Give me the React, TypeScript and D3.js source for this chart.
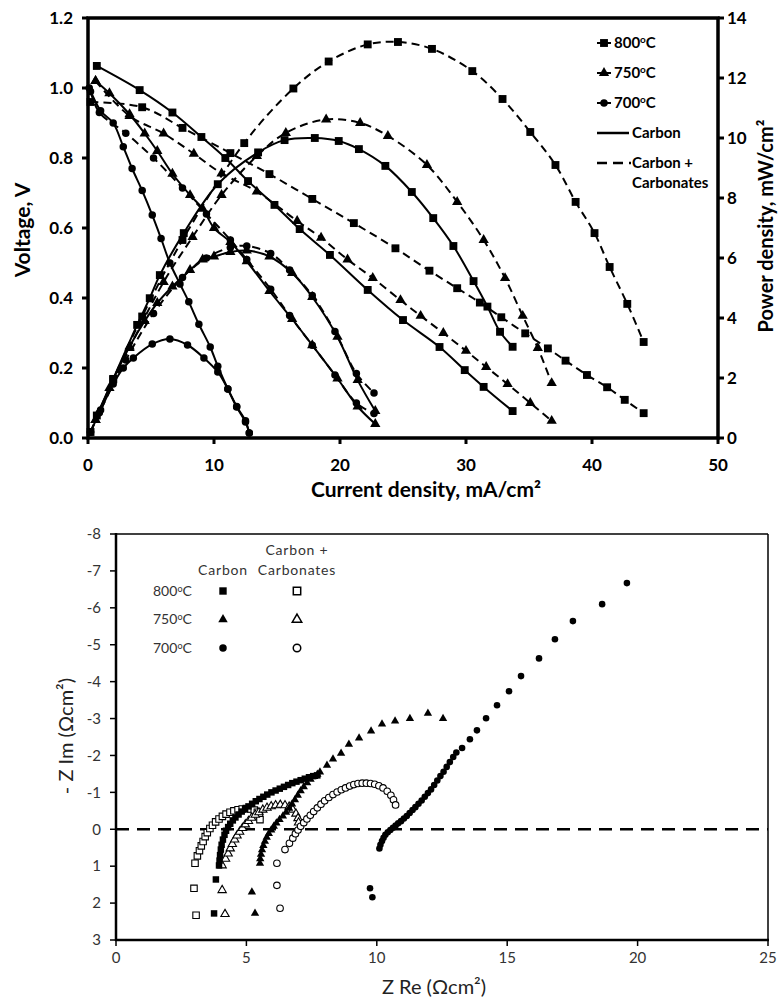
import React from 'react';
import * as d3 from 'd3';

type Pt = [number, number];

// ---------- top panel: V (left axis) and power density (right axis) vs current density ----------
const v800Carbon: Pt[] = [[0.7,1.063],[4.1,0.994],[6.7,0.93],[9.0,0.86],[10.9,0.80],[12.7,0.734],[14.8,0.666],[16.8,0.597],[19.2,0.523],[22.2,0.423],[25.0,0.337],[27.9,0.26],[29.9,0.194],[31.4,0.146],[33.7,0.077]];
const v800Carbonates: Pt[] = [[0.2,0.96],[4.3,0.945],[7.5,0.886],[11.3,0.814],[14.4,0.754],[17.8,0.683],[21.1,0.614],[24.4,0.542],[27.1,0.478],[29.3,0.428],[31.1,0.387],[32.8,0.345],[34.7,0.299],[36.5,0.256],[37.9,0.221],[39.6,0.18],[41.2,0.145],[42.6,0.109],[44.1,0.071]];
const v750Carbon: Pt[] = [[0.6,1.02],[1.7,0.985],[3.3,0.925],[4.5,0.87],[5.5,0.82],[6.7,0.755],[8.1,0.694],[9.1,0.655],[10.0,0.6],[11.3,0.56],[12.6,0.505],[14.4,0.42],[16.2,0.34],[17.8,0.265],[19.8,0.17],[21.4,0.09],[22.8,0.04]];
const v750Carbonates: Pt[] = [[0.6,1.02],[3.3,0.92],[6.0,0.87],[8.4,0.812],[10.6,0.756],[13.4,0.704],[16.6,0.62],[18.5,0.572],[20.6,0.51],[22.6,0.457],[24.8,0.394],[26.4,0.349],[28.2,0.30],[30.0,0.249],[31.6,0.203],[33.3,0.154],[35.1,0.1],[36.8,0.049]];
const v700Carbon: Pt[] = [[0.1,1.0],[1.0,0.935],[2.0,0.9],[2.8,0.832],[3.5,0.77],[4.3,0.707],[5.1,0.637],[5.8,0.57],[6.5,0.5],[7.3,0.44],[8.0,0.389],[8.8,0.325],[9.7,0.26],[10.3,0.205],[11.1,0.14],[11.8,0.09],[12.5,0.049],[12.8,0.014]];
const v700Carbonates: Pt[] = [[0.2,0.99],[0.9,0.93],[3.0,0.871],[5.2,0.80],[7.5,0.714],[9.4,0.64],[11.3,0.566],[12.6,0.51],[14.5,0.425],[16.0,0.35],[17.8,0.265],[19.6,0.18],[21.3,0.1],[22.7,0.07]];

const p800Carbon: Pt[] = [[0.7,0.75],[2.0,1.97],[3.9,3.77],[4.9,4.66],[5.7,5.43],[7.6,6.83],[10.3,8.46],[13.5,9.52],[15.6,9.93],[18.0,10.0],[19.9,9.9],[21.5,9.63],[23.6,9.07],[25.7,8.2],[27.4,7.33],[29.0,6.4],[30.6,5.23],[31.7,4.38],[32.7,3.54],[33.7,3.04]];
const p800Carbonates: Pt[] = [[0.2,0.2],[2.0,1.95],[4.3,4.05],[7.5,6.6],[12.4,9.83],[16.3,11.65],[19.1,12.55],[22.2,13.12],[24.6,13.2],[27.3,12.97],[30.5,12.23],[32.9,11.3],[35.1,10.2],[37.1,9.1],[38.7,7.87],[40.2,6.83],[41.4,5.7],[42.8,4.47],[44.1,3.2]];
const p750Carbon: Pt[] = [[0.6,0.6],[1.7,1.67],[3.3,3.05],[4.5,3.9],[5.5,4.5],[6.7,5.05],[8.1,5.6],[9.1,5.95],[10.0,6.05],[11.3,6.2],[12.6,6.25],[14.4,6.05],[16.2,5.5],[17.8,4.7],[19.8,3.37],[21.4,1.93],[22.8,0.9]];
const p750Carbonates: Pt[] = [[0.6,0.6],[3.3,3.0],[6.0,5.2],[8.3,6.7],[10.6,8.1],[13.4,9.4],[15.7,10.17],[18.9,10.62],[21.6,10.5],[23.8,10.07],[26.9,9.1],[29.3,7.87],[31.4,6.6],[33.1,5.33],[34.5,4.07],[35.7,3.0],[36.8,1.83]];
const p700Carbon: Pt[] = [[0.2,0.2],[1.0,0.93],[2.0,1.8],[2.8,2.33],[3.6,2.67],[5.1,3.13],[6.5,3.3],[7.9,3.1],[9.2,2.67],[10.3,2.2],[11.1,1.63],[11.8,1.03],[12.5,0.53],[12.8,0.17]];
const p700Carbonates: Pt[] = [[0.2,0.2],[0.9,0.84],[3.0,2.6],[5.2,4.15],[7.5,5.35],[9.4,6.0],[11.3,6.35],[12.6,6.4],[14.5,6.15],[16.0,5.6],[17.8,4.75],[19.6,3.55],[21.3,2.15],[22.7,1.5]];

const currentTicks = [0, 10, 20, 30, 40, 50];
const voltTicks = [0, 0.2, 0.4, 0.6, 0.8, 1.0, 1.2];
const powerTicks = [0, 2, 4, 6, 8, 10, 12, 14];
const tempLabels = ['800', '750', '700'];

// ---------- bottom panel: impedance spectra (Z Re, -Z Im axis reversed) ----------
const z800Carbon: Pt[] = [[3.76,2.28],[3.83,1.36],[3.95,0.98],[3.97,0.85],[3.99,0.7],[4.02,0.55],[4.05,0.42],[4.1,0.28],[4.16,0.15],[4.22,0.04],[4.3,-0.06],[4.38,-0.15],[4.48,-0.24],[4.58,-0.32],[4.7,-0.4],[4.82,-0.48],[4.95,-0.55],[5.08,-0.62],[5.22,-0.69],[5.36,-0.76],[5.5,-0.82],[5.65,-0.88],[5.8,-0.94],[5.96,-1.0],[6.12,-1.05],[6.28,-1.1],[6.44,-1.15],[6.6,-1.2],[6.76,-1.25],[6.92,-1.29],[7.08,-1.33],[7.24,-1.37],[7.4,-1.41],[7.56,-1.44],[7.72,-1.46]];
const z800Carbonates: Pt[] = [[3.07,2.33],[2.99,1.6],[3.03,0.92],[3.12,0.72],[3.2,0.58],[3.27,0.45],[3.34,0.33],[3.42,0.2],[3.5,0.09],[3.6,-0.02],[3.7,-0.11],[3.82,-0.2],[3.95,-0.28],[4.08,-0.35],[4.22,-0.41],[4.37,-0.46],[4.52,-0.5],[4.68,-0.53],[4.84,-0.55],[5.0,-0.56],[5.16,-0.55],[5.3,-0.52],[5.42,-0.46],[5.5,-0.37],[5.52,-0.26]];
const z750Carbon: Pt[] = [[5.33,2.28],[5.21,1.7],[5.52,0.92],[5.53,0.8],[5.56,0.68],[5.6,0.56],[5.65,0.44],[5.71,0.33],[5.78,0.22],[5.86,0.12],[5.95,0.02],[6.05,-0.08],[6.15,-0.17],[6.27,-0.26],[6.4,-0.36],[6.52,-0.46],[6.64,-0.57],[6.75,-0.68],[6.86,-0.8],[6.97,-0.92],[7.08,-1.04],[7.2,-1.15],[7.33,-1.26],[7.46,-1.35],[7.6,-1.43],[7.72,-1.49],[7.82,-1.55],[8.09,-1.73],[8.32,-1.9],[8.63,-2.06],[8.93,-2.3],[9.32,-2.47],[9.78,-2.66],[10.2,-2.85],[10.7,-2.93],[11.27,-3.0],[11.96,-3.14],[12.54,-3.0]];
const z750Carbonates: Pt[] = [[4.18,2.3],[4.07,1.65],[4.07,0.98],[4.2,0.8],[4.3,0.66],[4.38,0.52],[4.46,0.4],[4.55,0.28],[4.64,0.17],[4.74,0.07],[4.85,-0.03],[4.96,-0.13],[5.08,-0.22],[5.2,-0.31],[5.34,-0.39],[5.48,-0.46],[5.63,-0.53],[5.79,-0.58],[5.95,-0.62],[6.12,-0.65],[6.3,-0.66],[6.48,-0.65],[6.64,-0.61],[6.78,-0.53],[6.9,-0.42],[6.98,-0.3],[7.0,-0.18]];
const z700Carbon: Pt[] = [[9.83,1.84],[9.74,1.6],[10.1,0.52],[10.14,0.42],[10.2,0.32],[10.26,0.23],[10.33,0.15],[10.42,0.08],[10.52,0.02],[10.62,-0.04],[10.72,-0.1],[10.82,-0.16],[10.93,-0.22],[11.04,-0.29],[11.15,-0.36],[11.26,-0.44],[11.37,-0.52],[11.48,-0.6],[11.6,-0.69],[11.72,-0.78],[11.84,-0.88],[11.96,-0.98],[12.08,-1.08],[12.2,-1.2],[12.32,-1.32],[12.44,-1.44],[12.56,-1.56],[12.68,-1.69],[12.8,-1.82],[12.93,-1.96],[13.05,-2.08],[13.27,-2.2],[13.57,-2.44],[13.84,-2.68],[14.19,-3.01],[14.61,-3.36],[15.07,-3.74],[15.53,-4.15],[16.22,-4.63],[16.83,-5.15],[17.52,-5.64],[18.64,-6.1],[19.59,-6.67]];
const z700Carbonates: Pt[] = [[6.29,2.14],[6.17,1.52],[6.17,0.92],[6.48,0.55],[6.65,0.38],[6.78,0.24],[6.88,0.12],[6.98,0.02],[7.08,-0.08],[7.2,-0.18],[7.32,-0.28],[7.45,-0.38],[7.58,-0.48],[7.72,-0.58],[7.86,-0.68],[8.0,-0.77],[8.16,-0.86],[8.32,-0.94],[8.48,-1.01],[8.64,-1.07],[8.8,-1.12],[8.96,-1.17],[9.12,-1.21],[9.28,-1.24],[9.44,-1.25],[9.6,-1.25],[9.76,-1.24],[9.92,-1.22],[10.08,-1.18],[10.24,-1.12],[10.4,-1.03],[10.54,-0.92],[10.64,-0.8],[10.72,-0.66]];

const zreTicks = [0, 5, 10, 15, 20, 25];
const zimTicks = [-8, -7, -6, -5, -4, -3, -2, -1, 0, 1, 2, 3];

const symType = (s: string) => (s === 'square' ? d3.symbolSquare : s === 'triangle' ? d3.symbolTriangle : d3.symbolCircle);
const sym = (s: string, size: number) => d3.symbol().type(symType(s)).size(size)() as string;

const topSizes: Record<string, number> = { square: 62, triangle: 46, circle: 44 };
const botSizes: Record<string, number> = { square: 42, triangle: 30, circle: 34 };

const boldFont = "Lato, 'Open Sans', sans-serif";
const lightFont = "Lato, 'Open Sans', sans-serif";

export default function App() {
  // top chart scales
  const x = d3.scaleLinear().domain([0, 50]).range([88, 718]);
  const yV = d3.scaleLinear().domain([0, 1.2]).range([438, 18]);
  const yP = d3.scaleLinear().domain([0, 14]).range([438, 18]);

  const topSeries = [
    { d: v800Carbon, y: yV, shape: 'square', dash: false },
    { d: v800Carbonates, y: yV, shape: 'square', dash: true },
    { d: v750Carbon, y: yV, shape: 'triangle', dash: false },
    { d: v750Carbonates, y: yV, shape: 'triangle', dash: true },
    { d: v700Carbon, y: yV, shape: 'circle', dash: false },
    { d: v700Carbonates, y: yV, shape: 'circle', dash: true },
    { d: p800Carbon, y: yP, shape: 'square', dash: false },
    { d: p800Carbonates, y: yP, shape: 'square', dash: true },
    { d: p750Carbon, y: yP, shape: 'triangle', dash: false },
    { d: p750Carbonates, y: yP, shape: 'triangle', dash: true },
    { d: p700Carbon, y: yP, shape: 'circle', dash: false },
    { d: p700Carbonates, y: yP, shape: 'circle', dash: true },
  ];

  // bottom chart scales
  const zx = d3.scaleLinear().domain([0, 25]).range([116, 768]);
  const zy = d3.scaleLinear().domain([-8, 3]).range([534, 940]);

  // open markers first, filled ones drawn over them
  const botSeries = [
    { d: z800Carbonates, shape: 'square', filled: false },
    { d: z750Carbonates, shape: 'triangle', filled: false },
    { d: z700Carbonates, shape: 'circle', filled: false },
    { d: z700Carbon, shape: 'circle', filled: true },
    { d: z750Carbon, shape: 'triangle', filled: true },
    { d: z800Carbon, shape: 'square', filled: true },
  ];

  const shapes = ['square', 'triangle', 'circle'];

  return (
    <svg width={779} height={1003} style={{ position: 'absolute', left: 0, top: 0, background: '#fff' }}>
      {/* ===== top chart ===== */}
      <g>
        {topSeries.map((s, i) => {
          const line = d3.line<Pt>().x(p => x(p[0])).y(p => s.y(p[1])).curve(d3.curveCatmullRom.alpha(0.5));
          return (
            <path key={'l' + i} d={line(s.d) as string} fill="none" stroke="#000" strokeWidth={2}
              strokeDasharray={s.dash ? '8,5' : undefined} />
          );
        })}
        {topSeries.map((s, i) =>
          s.d.map((p, j) => (
            <path key={'m' + i + '-' + j} d={sym(s.shape, topSizes[s.shape])}
              transform={`translate(${x(p[0])},${s.y(p[1])})`} fill="#000" />
          ))
        )}
        <rect x={88} y={18} width={630} height={420} fill="none" stroke="#000" strokeWidth={3.5} />
        {voltTicks.map(t => (
          <g key={'vt' + t}>
            <line x1={82} x2={88} y1={yV(t)} y2={yV(t)} stroke="#000" strokeWidth={3} />
            <text x={73} y={yV(t)} dy="0.35em" textAnchor="end" fontFamily={boldFont} fontWeight="bold" fontSize={17}>{t.toFixed(1)}</text>
          </g>
        ))}
        {powerTicks.map(t => (
          <g key={'pt' + t}>
            <line x1={718} x2={724} y1={yP(t)} y2={yP(t)} stroke="#000" strokeWidth={3} />
            <text x={727} y={yP(t)} dy="0.35em" textAnchor="start" fontFamily={boldFont} fontWeight="bold" fontSize={17}>{t}</text>
          </g>
        ))}
        {currentTicks.map(t => (
          <g key={'ct' + t}>
            <line x1={x(t)} x2={x(t)} y1={438} y2={444} stroke="#000" strokeWidth={3} />
            <text x={x(t)} y={471} textAnchor="middle" fontFamily={boldFont} fontWeight="bold" fontSize={17}>{t}</text>
          </g>
        ))}
        <text transform="translate(30,230) rotate(-90)" textAnchor="middle" fontFamily={boldFont} fontWeight="bold" fontSize={21}>Voltage, V</text>
        <text x={426} y={497} textAnchor="middle" fontFamily={boldFont} fontWeight="bold" fontSize={21}>Current density, mA/cm²</text>
        <text transform="translate(773,226) rotate(-90)" textAnchor="middle" fontFamily={boldFont} fontWeight="bold" fontSize={20}>Power density, mW/cm²</text>

        {/* legend */}
        {tempLabels.map((t, i) => {
          const ly = 43 + i * 30;
          return (
            <g key={'lg' + t}>
              <line x1={597} x2={611} y1={ly} y2={ly} stroke="#000" strokeWidth={2} />
              <path d={sym(shapes[i], topSizes[shapes[i]])} transform={`translate(604,${ly})`} fill="#000" />
              <text x={614} y={ly} dy="0.35em" fontFamily={boldFont} fontWeight="bold" fontSize={15}>
                {t}<tspan dy={-5} fontSize={10}>o</tspan><tspan dy={5}>C</tspan>
              </text>
            </g>
          );
        })}
        <line x1={597} x2={629} y1={133} y2={133} stroke="#000" strokeWidth={2.5} />
        <text x={632} y={133} dy="0.35em" fontFamily={boldFont} fontWeight="bold" fontSize={15}>Carbon</text>
        <line x1={597} x2={631} y1={163} y2={163} stroke="#000" strokeWidth={2.5} strokeDasharray="10,6" />
        <text x={632} y={163} dy="0.35em" fontFamily={boldFont} fontWeight="bold" fontSize={15}>Carbon +</text>
        <text x={632} y={183} dy="0.35em" fontFamily={boldFont} fontWeight="bold" fontSize={15}>Carbonates</text>
      </g>

      {/* ===== bottom chart ===== */}
      <g>
        <line x1={116} x2={768} y1={zy(0)} y2={zy(0)} stroke="#000" strokeWidth={2.5} strokeDasharray="13,8" />
        {botSeries.map((s, i) =>
          s.d.map((p, j) => (
            <path key={'b' + i + '-' + j} d={sym(s.shape, botSizes[s.shape])}
              transform={`translate(${zx(p[0])},${zy(p[1])})`}
              fill={s.filled ? '#000' : '#fff'} stroke="#000" strokeWidth={s.filled ? 0 : 1.1} />
          ))
        )}
        <line x1={116} x2={768} y1={534} y2={534} stroke="#000" strokeWidth={1.5} />
        <line x1={768} x2={768} y1={534} y2={940} stroke="#000" strokeWidth={1.5} />
        <line x1={116} x2={116} y1={533} y2={941} stroke="#000" strokeWidth={2.5} />
        <line x1={115} x2={769} y1={940} y2={940} stroke="#000" strokeWidth={2.5} />
        {zimTicks.map(t => (
          <g key={'zy' + t}>
            <line x1={110} x2={116} y1={zy(t)} y2={zy(t)} stroke="#000" strokeWidth={1.5} />
            <text x={101} y={zy(t)} dy="0.35em" textAnchor="end" fontFamily={lightFont} fontSize={15} fill="#333">{t}</text>
          </g>
        ))}
        {zreTicks.map(t => (
          <g key={'zx' + t}>
            <line x1={zx(t)} x2={zx(t)} y1={940} y2={946} stroke="#000" strokeWidth={1.5} />
            <text x={zx(t)} y={963} textAnchor="middle" fontFamily={lightFont} fontSize={15} fill="#333">{t}</text>
          </g>
        ))}
        <text transform="translate(73,736) rotate(-90)" textAnchor="middle" fontFamily={lightFont} fontSize={20} fill="#222">- Z Im (Ωcm²)</text>
        <text x={434} y={994} textAnchor="middle" fontFamily={lightFont} fontSize={20} fill="#222">Z Re (Ωcm²)</text>

        {/* legend */}
        <text x={223} y={575} textAnchor="middle" fontFamily={lightFont} fontSize={14} fill="#333" letterSpacing={0.8}>Carbon</text>
        <text x={297} y={555} textAnchor="middle" fontFamily={lightFont} fontSize={14} fill="#333" letterSpacing={0.8}>Carbon +</text>
        <text x={297} y={575} textAnchor="middle" fontFamily={lightFont} fontSize={14} fill="#333" letterSpacing={0.8}>Carbonates</text>
        {tempLabels.map((t, i) => {
          const ly = 591 + i * 28.5;
          return (
            <g key={'bl' + t}>
              <text x={153} y={ly} dy="0.35em" fontFamily={lightFont} fontSize={14} fill="#333">
                {t}<tspan dy={-4} fontSize={9}>o</tspan><tspan dy={4}>C</tspan>
              </text>
              <path d={sym(shapes[i], botSizes[shapes[i]] * 1.3)} transform={`translate(223,${ly})`} fill="#000" />
              <path d={sym(shapes[i], botSizes[shapes[i]] * 1.3)} transform={`translate(297,${ly})`} fill="#fff" stroke="#000" strokeWidth={1.5} />
            </g>
          );
        })}
      </g>
    </svg>
  );
}
